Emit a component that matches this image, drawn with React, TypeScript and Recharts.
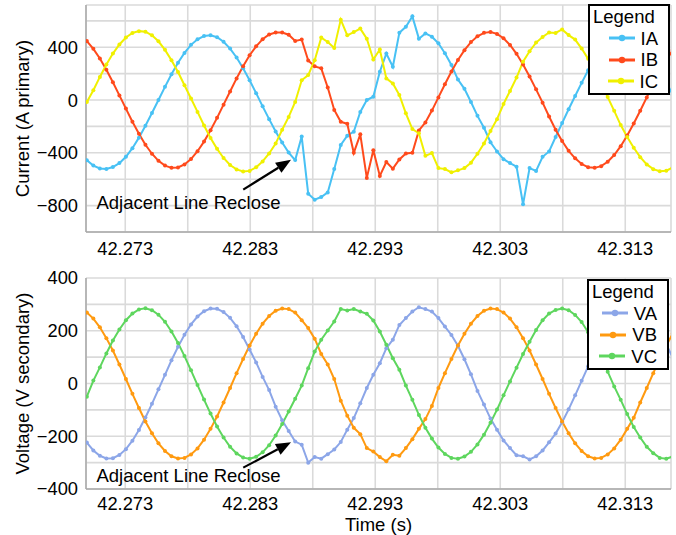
import { LineChart, Line, XAxis, YAxis, CartesianGrid, Legend, ReferenceLine, ReferenceDot } from 'recharts'

// sample times (s), 32 samples per cycle
const time = [
  42.269928, 42.270449, 42.27097, 42.27149, 42.272011, 42.272532, 42.273053, 42.273574, 42.274095, 42.274615,
  42.275136, 42.275657, 42.276178, 42.276699, 42.27722, 42.27774, 42.278261, 42.278782, 42.279303, 42.279824,
  42.280345, 42.280865, 42.281386, 42.281907, 42.282428, 42.282949, 42.28347, 42.28399, 42.284511, 42.285032,
  42.285553, 42.286074, 42.286595, 42.287116, 42.287637, 42.288157, 42.288678, 42.289199, 42.28972, 42.290241,
  42.290762, 42.291282, 42.291803, 42.292324, 42.292845, 42.293366, 42.293887, 42.294407, 42.294928, 42.295449,
  42.29597, 42.296491, 42.297012, 42.297532, 42.298053, 42.298574, 42.299095, 42.299616, 42.300137, 42.300657,
  42.301178, 42.301699, 42.30222, 42.302741, 42.303262, 42.303782, 42.304303, 42.304824, 42.305345, 42.305866,
  42.306387, 42.306907, 42.307428, 42.307949, 42.30847, 42.308991, 42.309512, 42.310032, 42.310553, 42.311074,
  42.311595, 42.312116, 42.312637, 42.313157, 42.313678, 42.314199, 42.31472, 42.315241, 42.315762, 42.316282,
  42.316803,
]

// currents (A primary)
const ia = [
  -456, -497, -519, -522, -508, -478, -430, -365, -285, -195,
  -98, 0, 100, 195, 282, 357, 418, 460, 485, 490,
  476, 442, 390, 322, 240, 150, 52, -48, -145, -238,
  -322, -398, -455, -277, -710, -755, -735, -700, -523, -340,
  -270, -240, -90, 0, 25, 214, 352, 252, 510, 555,
  634, 465, 505, 480, 430, 355, 265, 155, 85, -15,
  -120, -210, -320, -390, -448, -478, -505, -790, -516, -538,
  -430, -390, -280, -175, -70, 30, 130, 225, 305, 375,
  430, 468, 488, 489, 470, 432, 378, 308, 225, 135,
  40,
]
const ib = [
  447, 388, 315, 229, 135, 35, -65, -164, -256, -339,
  -407, -461, -497, -514, -511, -488, -447, -388, -315, -229,
  -135, -35, 65, 164, 256, 339, 407, 461, 497, 512,
  511, 495, 448, 458, 300, 255, 240, 95, -75, -165,
  -180, -400, -260, -590, -380, -575, -470, -520, -450, -405,
  -400, -230, -170, -80, 20, 120, 216, 303, 378, 439,
  483, 509, 515, 501, 468, 417, 350, 269, 178, 81,
  -20, -125, -225, -310, -385, -442, -485, -509, -514, -501,
  -468, -417, -350, -269, -178, -81, 20, 120, 216, 303,
  378,
]
const ic = [
  -15, 74, 175, 269, 352, 421, 474, 508, 522, 518,
  490, 445, 380, 302, 212, 112, 12, -90, -193, -287,
  -370, -439, -492, -526, -541, -537, -510, -465, -405, -330,
  -225, -128, -15, 150, 189, 302, 473, 440, 395, 609,
  490, 515, 541, 465, 307, 383, 164, 126, 38, -101,
  -220, -252, -423, -402, -516, -523, -548, -533, -516, -475,
  -407, -330, -235, -145, -30, 68, 170, 290, 370, 435,
  478, 512, 508, 535, 492, 458, 390, 312, 223, 125,
  22, -82, -190, -280, -362, -433, -488, -524, -540, -536,
  -512,
]

// voltages (V secondary)
const va = [
  -224, -254, -274, -284, -283, -271, -249, -217, -176, -129,
  -77, -22, 33, 88, 139, 185, 224, 254, 274, 284,
  283, 271, 249, 217, 176, 129, 80, 25, -25, -88,
  -139, -180, -220, -232, -300, -279, -285, -268, -250, -222,
  -175, -131, -75, -17, 33, 77, 134, 166, 222, 248,
  273, 289, 282, 273, 248, 216, 184, 143, 92, 35,
  -28, -80, -133, -175, -216, -245, -272, -276, -288, -276,
  -254, -223, -190, -147, -98, -45, 10, 65, 118, 165,
  207, 241, 266, 281, 285, 278, 259, 231, 193, 148,
  98,
]
const vb = [
  269, 246, 213, 172, 125, 72, 17, -39, -93, -144,
  -189, -227, -256, -276, -284, -282, -269, -246, -213, -172,
  -125, -72, -17, 39, 93, 144, 189, 227, 256, 276,
  284, 282, 269, 240, 210, 170, 112, 72, 17, -65,
  -122, -168, -192, -245, -258, -279, -295, -270, -274, -245,
  -211, -172, -135, -85, -17, 39, 93, 144, 189, 227,
  256, 276, 284, 282, 269, 246, 213, 172, 125, 72,
  17, -39, -93, -144, -189, -227, -256, -276, -284, -282,
  -269, -246, -213, -172, -130, -72, -17, 39, 93, 144,
  189,
]
const vc = [
  -50, 11, 61, 114, 163, 205, 240, 265, 281, 285,
  278, 261, 234, 197, 154, 104, 50, -6, -61, -114,
  -163, -205, -240, -265, -281, -285, -278, -261, -234, -197,
  -154, -106, -58, -8, 58, 121, 166, 201, 235, 282,
  277, 282, 273, 264, 239, 197, 147, 96, 52, -8,
  -62, -119, -168, -209, -243, -267, -282, -285, -277, -259,
  -231, -194, -149, -99, -45, 8, 60, 112, 158, 203,
  240, 265, 279, 284, 278, 260, 233, 194, 149, 99,
  45, -11, -62, -116, -165, -205, -240, -264, -282, -285,
  -277,
]

const xDomain = [42.26986, 42.31666]
const xTicks = [42.273, 42.278, 42.283, 42.288, 42.293, 42.298, 42.303, 42.308, 42.313]
const currentTicks = [-800, -600, -400, -200, 0, 200, 400, 600]
const voltageTicks = [-400, -300, -200, -100, 0, 100, 200, 300, 400]

// annotation anchor points (data coords)
const noteText = 'Adjacent Line Reclose'
const noteTime = 42.27806
const arrowCurrent = [{ x: 42.28244, y: -679 }, { x: 42.28626, y: -453 }]
const arrowVoltage = [{ x: 42.28244, y: -319 }, { x: 42.28626, y: -223 }]

const currentRows = time.map((t, i) => ({ t, IA: ia[i], IB: ib[i], IC: ic[i] }))
const voltageRows = time.map((t, i) => ({ t, VA: va[i], VB: vb[i], VC: vc[i] }))

const font = "'Liberation Sans', Arial, sans-serif"
const tickStyle = { fontSize: 18.3, fill: '#000' }
const borderLine = { stroke: '#a8a8a8', strokeWidth: 1.5 }

const fmtTime = (v: number) => (Math.round(v * 1000) % 10 === 3 ? v.toFixed(3) : '')
const fmtNum = (step: number) => (v: number) => (v % step === 0 ? (v < 0 ? '\u2212' + Math.abs(v) : String(v)) : '')

function Arrow(p: any) {
  const { x1, y1, x2, y2 } = p
  const a = Math.atan2(y2 - y1, x2 - x1)
  const bx = x2 - 15 * Math.cos(a)
  const by = y2 - 15 * Math.sin(a)
  const nx = -Math.sin(a) * 6
  const ny = Math.cos(a) * 6
  return (
    <g>
      <line x1={x1} y1={y1} x2={bx} y2={by} stroke="#000" strokeWidth={2.2} />
      <polygon points={`${x2},${y2} ${bx + nx},${by + ny} ${bx - nx},${by - ny}`} fill="#000" />
    </g>
  )
}

function LegendBox(props: any) {
  const { payload = [] } = props
  return (
    <div
      style={{
        width: 82, height: 91, boxSizing: 'border-box', border: '2px solid #000', background: '#fff',
        padding: '0 10px 0 3px', fontSize: 18.5, lineHeight: '21.5px', color: '#000', fontFamily: font,
      }}
    >
      <div>Legend</div>
      {payload.map((e: any) => (
        <div key={e.value} style={{ display: 'flex', justifyContent: 'flex-end', alignItems: 'center' }}>
          <svg width={26} height={10} style={{ marginRight: 6 }}>
            <line x1={0} y1={5} x2={26} y2={5} stroke={e.color} strokeWidth={3} />
            <circle cx={13} cy={5} r={3.2} fill={e.color} />
          </svg>
          <span>{e.value}</span>
        </div>
      ))}
    </div>
  )
}

function series(key: string, color: string) {
  return (
    <Line
      key={key}
      type="linear"
      dataKey={key}
      name={key}
      stroke={color}
      strokeWidth={2}
      dot={{ r: 2, fill: color, stroke: 'none' }}
      activeDot={false}
      isAnimationActive={false}
    />
  )
}

export default function App() {
  return (
    <div style={{ position: 'absolute', left: 0, top: 0, width: 676, height: 535, background: '#fff', fontFamily: font }}>
      <div style={{ position: 'absolute', left: 0, top: 0 }}>
        <LineChart width={676} height={262} data={currentRows} margin={{ top: 5, right: 5, bottom: 0, left: 0 }}>
          <CartesianGrid stroke="#dadada" strokeWidth={1.6} />
          <XAxis
            dataKey="t" type="number" domain={xDomain} allowDataOverflow ticks={xTicks} interval={0}
            tickFormatter={fmtTime} tick={tickStyle} tickLine={false} tickSize={0} tickMargin={10}
            height={30} axisLine={borderLine}
          />
          <XAxis xAxisId="top" orientation="top" dataKey="t" type="number" domain={xDomain} allowDataOverflow height={0} tick={false} tickLine={false} axisLine={borderLine} />
          <YAxis
            type="number" domain={[-1000, 720]} ticks={currentTicks} interval={0} width={86}
            tickFormatter={fmtNum(400)} tick={tickStyle} tickLine={false} tickSize={0} tickMargin={8} axisLine={borderLine}
            label={{ value: 'Current (A primary)', angle: -90, position: 'center', dx: -21, fontSize: 18.5, fill: '#000' }}
          />
          <YAxis yAxisId="right" orientation="right" width={0} domain={[-1000, 720]} tick={false} tickLine={false} axisLine={borderLine} />
          {series('IA', '#48c1f4')}
          {series('IB', '#ff4a1c')}
          {series('IC', '#f0f000')}
          <ReferenceLine segment={arrowCurrent} shape={Arrow} />
          <ReferenceDot x={noteTime} y={-777} r={0} fill="none" stroke="none" label={{ value: noteText, position: 'center', fontSize: 18.5, fill: '#000' }} />
          <Legend layout="vertical" align="center" verticalAlign="middle" content={LegendBox} wrapperStyle={{ top: 4, left: 588, width: 82, height: 91 }} />
        </LineChart>
      </div>
      <div style={{ position: 'absolute', left: 0, top: 262 }}>
        <LineChart width={676} height={273} data={voltageRows} margin={{ top: 16, right: 5, bottom: 0, left: 0 }}>
          <CartesianGrid stroke="#dadada" strokeWidth={1.6} />
          <XAxis
            dataKey="t" type="number" domain={xDomain} allowDataOverflow ticks={xTicks} interval={0}
            tickFormatter={fmtTime} tick={tickStyle} tickLine={false} tickSize={0} tickMargin={8}
            height={46} axisLine={borderLine}
            label={{ value: 'Time (s)', position: 'insideBottom', offset: 4, fontSize: 18.5, fill: '#000' }}
          />
          <XAxis xAxisId="top" orientation="top" dataKey="t" type="number" domain={xDomain} allowDataOverflow height={0} tick={false} tickLine={false} axisLine={borderLine} />
          <YAxis
            type="number" domain={[-400, 400]} ticks={voltageTicks} interval={0} width={86}
            tickFormatter={fmtNum(200)} tick={tickStyle} tickLine={false} tickSize={0} tickMargin={8} axisLine={borderLine}
            label={{ value: 'Voltage (V secondary)', angle: -90, position: 'center', dx: -21, fontSize: 18.5, fill: '#000' }}
          />
          <YAxis yAxisId="right" orientation="right" width={0} domain={[-400, 400]} tick={false} tickLine={false} axisLine={borderLine} />
          {series('VA', '#8ca6e8')}
          {series('VB', '#ff9a10')}
          {series('VC', '#5ed65e')}
          <ReferenceLine segment={arrowVoltage} shape={Arrow} />
          <ReferenceDot x={noteTime} y={-350} r={0} fill="none" stroke="none" label={{ value: noteText, position: 'center', fontSize: 18.5, fill: '#000' }} />
          <Legend layout="vertical" align="center" verticalAlign="middle" content={LegendBox} wrapperStyle={{ top: 17, left: 587, width: 82, height: 91 }} />
        </LineChart>
      </div>
    </div>
  )
}
